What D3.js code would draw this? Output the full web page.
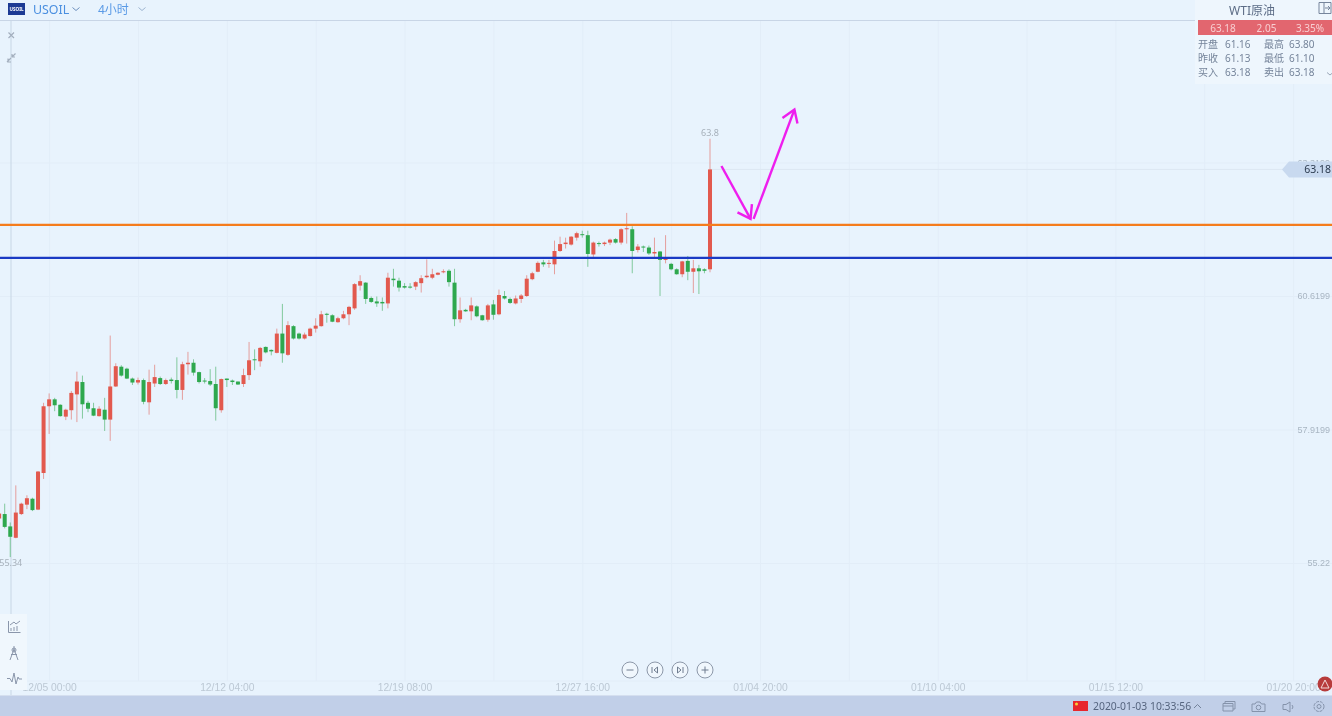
<!DOCTYPE html>
<html lang="zh">
  <head>
    <meta charset="UTF-8" />
    <title>USOIL 4小时</title>
    <style>
      html, body { margin: 0; padding: 0; background: #e8f3fd; overflow: hidden; }
      svg { display: block; filter: blur(0.35px); font-family: "Noto Sans", "Noto Sans CJK SC", sans-serif; }
    </style>
  </head>
  <body>
    <div class="chart"></div>
    <script src="https://d3js.org/d3.v7.min.js"></script>
    <script>
      // candle values, first one is cut off by the left edge
      const bodyTop = [56.22,
        56.21,55.96,56.24,56.42,56.53,56.52,57.07,58.39,58.53,58.53,58.42,58.32,58.66,58.89,58.88,58.46,58.35,58.34,58.32,58.79,
        59.20,59.19,59.15,58.95,58.92,58.92,58.88,58.98,58.96,58.92,58.93,58.92,59.24,59.27,59.27,59.08,58.91,58.90,58.84,58.94,
        58.95,58.91,58.89,59.02,59.32,59.34,59.57,59.59,59.53,59.86,59.86,60.03,60.01,59.86,59.84,59.96,60.02,60.25,60.26,60.23,
        60.17,60.25,60.40,60.86,60.92,60.89,60.58,60.51,60.50,60.99,60.97,60.93,60.82,60.81,60.90,60.98,61.03,61.06,61.09,61.12,
        61.13,60.89,60.33,60.34,60.43,60.41,60.23,60.43,60.45,60.64,60.62,60.56,60.57,60.63,60.97,61.08,61.29,61.30,61.29,61.53,
        61.67,61.70,61.82,61.89,61.87,61.85,61.70,61.69,61.70,61.76,61.77,61.97,61.99,61.97,61.62,61.62,61.60,61.51,61.52,61.37,
        61.27,61.16,61.32,61.33,61.18,61.18,61.16,63.18];
      const bodyBottom = [56.12,
        55.95,55.75,55.73,56.21,56.40,56.29,56.30,57.04,58.39,58.41,58.19,58.18,58.31,58.63,58.43,58.34,58.20,58.19,58.12,58.12,
        58.79,59.01,58.95,58.87,58.87,58.48,58.47,58.85,58.84,58.84,58.90,58.72,58.72,59.24,59.07,58.88,58.89,58.83,58.35,58.31,
        58.92,58.88,58.83,58.84,59.02,59.32,59.30,59.48,59.50,59.47,59.46,59.43,59.76,59.76,59.76,59.81,59.96,60.01,60.24,60.10,
        60.09,60.17,60.25,60.37,60.83,60.56,60.50,60.47,60.47,60.47,60.94,60.79,60.79,60.79,60.81,60.88,61.00,60.99,61.05,61.10,
        60.90,60.15,60.15,60.31,60.31,60.21,60.13,60.14,60.24,60.25,60.57,60.48,60.47,60.56,60.62,60.96,61.11,61.26,61.28,61.26,
        61.53,61.67,61.66,61.80,61.85,61.47,61.46,61.67,61.67,61.70,61.70,61.70,61.97,61.53,61.55,61.60,61.48,61.48,61.35,61.35,
        61.16,61.06,61.06,61.11,61.11,61.12,61.13,61.16];
      const highs = [56.25,
        56.42,56.04,56.79,56.44,56.59,56.54,57.08,58.46,58.65,58.56,58.43,58.34,58.70,59.09,59.01,58.50,58.46,58.39,58.56,59.82,
        59.26,59.22,59.17,58.97,58.97,58.95,59.13,59.23,58.99,58.95,58.97,59.38,59.29,59.49,59.34,59.09,58.96,59.14,59.19,58.95,
        58.95,58.93,58.89,59.15,59.69,59.54,59.59,59.60,59.54,59.96,60.46,60.11,60.03,59.88,59.88,59.98,60.17,60.32,60.28,60.25,
        60.20,60.32,60.42,60.88,61.04,60.90,60.61,60.61,60.59,61.09,61.17,60.99,60.88,60.88,60.92,61.04,61.36,61.17,61.10,61.16,
        61.16,61.17,60.59,60.36,60.59,60.43,60.24,60.46,60.54,60.75,60.72,60.59,60.63,60.66,61.04,61.11,61.32,61.35,61.35,61.74,
        61.82,61.80,61.83,61.92,61.94,61.94,61.72,61.72,61.72,61.78,61.79,61.99,62.30,62.03,61.67,61.64,61.64,61.80,61.53,61.85,
        61.29,61.18,61.33,61.43,61.35,61.25,61.18,63.80];
      const lows = [56.08,
        55.92,55.34,55.72,56.19,56.31,56.27,56.29,56.92,57.83,58.29,58.18,58.11,58.12,58.07,58.14,58.27,58.19,58.18,57.89,57.69,
        58.78,58.99,58.94,58.82,58.83,58.43,58.22,58.78,58.82,58.82,58.85,58.55,58.52,59.03,59.01,58.85,58.85,58.80,58.10,58.26,
        58.78,58.82,58.82,58.78,58.92,59.12,59.19,59.46,59.42,59.46,59.27,59.41,59.74,59.74,59.74,59.80,59.88,60.00,60.08,60.09,
        60.08,60.15,60.03,60.34,60.73,60.46,60.48,60.40,60.32,60.37,60.81,60.71,60.77,60.77,60.74,60.69,60.98,60.96,61.04,61.08,
        60.81,60.01,60.08,60.30,60.13,60.19,60.12,60.10,60.14,60.23,60.55,60.46,60.45,60.48,60.60,60.94,61.10,61.21,61.19,61.06,
        61.51,61.58,61.64,61.74,61.80,61.21,61.41,61.62,61.63,61.65,61.68,61.66,61.68,61.08,61.50,61.51,61.45,61.40,60.62,61.28,
        61.14,61.05,61.00,60.94,60.68,60.66,61.08,61.10];
      // r = closed up, g = closed down
      const direction = ("r" +
        "ggrrrgrrrg" + "grrrgggrgr" + "rgggrgrrgr" + "ggrrgggggr" + "gggrrgrggr" +
        "grggrrrrgg" + "rrrrrggggr" + "ggggrrrrrr" + "ggrgrggrgr" + "ggrrrrrgrr" +
        "rrrrggrgrr" + "grrgrggrgr" + "ggrgrggr").split("");

      const priceTicks = [63.3199, 60.6199, 57.9199, 55.22];
      const timeLabels = ["12/05 00:00", "12/12 04:00", "12/19 08:00", "12/27 16:00", "01/04 20:00", "01/10 04:00", "01/15 12:00", "01/20 20:00"];
      const timeLabelIndex = [8, 40, 72, 104, 136, 168, 200, 232];
      const gridIndex = [8, 24, 40, 56, 72, 88, 104, 120, 136, 152, 168, 184, 200, 216, 232, 248];

      const orangeLevel = 62.06;
      const blueLevel = 61.39;
      const lastPrice = 63.18;
      const highLabel = { index: 127, price: 63.8, text: "63.8" };
      const lowLabel = { index: 1, price: 55.34, text: "55.34" };

      // hand drawn arrows, [candle index, price]
      const arrowDown = [[129.06, 63.25], [134.3, 62.18]];
      const arrowDownHead = [[131.95, 62.31], [134.3, 62.18], [134.55, 62.48]];
      const arrowUp = [[134.85, 62.18], [142.2, 64.39]];
      const arrowUpHead = [[140.05, 64.22], [142.2, 64.39], [142.75, 64.11]];

      const panelRows = [
        ["开盘", "61.16", "最高", "63.80"],
        ["昨收", "61.13", "最低", "61.10"],
        ["买入", "63.18", "卖出", "63.18"],
      ];
      const quoteCells = ["63.18", "2.05", "3.35%"];

      const w = 1332;
      const h = 716;
      const upColor = "#e2594e";
      const downColor = "#2ea84e";
      const gridColor = "#e2edf8";

      const svg = d3.select(".chart").append("svg").attr("width", w).attr("height", h);
      svg.append("rect").attr("width", w).attr("height", h).attr("fill", "#e8f3fd");

      const xScale = d3.scaleLinear().domain([0, 127]).range([4.7, 710]);
      const yScale = d3.scaleLinear().domain([55.22, 60.6199]).range([563, 296]);

      // 格線
      const gridX = d3.axisBottom(xScale).tickValues(gridIndex).tickSize(-661).tickFormat("");
      svg.append("g").attr("transform", "translate(0,681)").call(gridX)
        .call((g) => g.select(".domain").remove())
        .call((g) => g.selectAll("line").attr("stroke", gridColor));

      const gridY = d3.axisRight(yScale).tickValues(priceTicks).tickSize(w).tickFormat("");
      svg.append("g").call(gridY)
        .call((g) => g.select(".domain").remove())
        .call((g) => g.selectAll("line").attr("stroke", gridColor));

      svg.append("line").attr("x1", 0).attr("x2", w).attr("y1", 681).attr("y2", 681).attr("stroke", gridColor);
      // crosshair
      svg.append("line").attr("x1", 11).attr("x2", 11).attr("y1", 20).attr("y2", 696).attr("stroke", "#c7d6e5");
      // last price guide
      svg.append("line").attr("x1", xScale(127)).attr("x2", 1284)
        .attr("y1", yScale(lastPrice)).attr("y2", yScale(lastPrice)).attr("stroke", "#dce7f2");

      // 價格軸
      const yAxis = d3.axisLeft(yScale).tickValues(priceTicks).tickSize(0).tickFormat((d) => d);
      svg.append("g").attr("transform", "translate(1333,0)").call(yAxis)
        .call((g) => g.select(".domain").remove())
        .call((g) => g.selectAll("text").attr("fill", "#a9b6c3").attr("font-size", 9).attr("font-family", "inherit"));

      // 時間軸
      const xAxis = d3.axisBottom(xScale).tickValues(timeLabelIndex).tickSize(0)
        .tickFormat((d, i) => timeLabels[i]);
      svg.append("g").attr("transform", "translate(0,681)").call(xAxis)
        .call((g) => g.select(".domain").remove())
        .call((g) => g.selectAll("text").attr("fill", "#bcc8d4").attr("font-size", 10.3).attr("font-family", "inherit"));

      // 蠟燭
      const candles = svg.append("g").selectAll("g").data(bodyTop).enter().append("g");
      candles.append("line")
        .attr("x1", (d, i) => xScale(i - 1))
        .attr("x2", (d, i) => xScale(i - 1))
        .attr("y1", (d, i) => yScale(highs[i]))
        .attr("y2", (d, i) => yScale(lows[i]))
        .attr("stroke", (d, i) => (direction[i] === "r" ? upColor : downColor))
        .attr("stroke-opacity", 0.55);
      candles.append("rect")
        .attr("x", (d, i) => xScale(i - 1) - 2)
        .attr("width", 4)
        .attr("y", (d, i) => yScale(d))
        .attr("height", (d, i) => Math.max(1, yScale(bodyBottom[i]) - yScale(d)))
        .attr("fill", (d, i) => (direction[i] === "r" ? upColor : downColor));

      // 水平線
      svg.append("line").attr("x1", 0).attr("x2", w)
        .attr("y1", yScale(orangeLevel)).attr("y2", yScale(orangeLevel))
        .attr("stroke", "#f57c1c").attr("stroke-width", 2.3);
      svg.append("line").attr("x1", 0).attr("x2", w)
        .attr("y1", yScale(blueLevel)).attr("y2", yScale(blueLevel))
        .attr("stroke", "#1a3ac4").attr("stroke-width", 2.3);

      // 箭頭
      const arrowLine = d3.line().x((d) => xScale(d[0])).y((d) => yScale(d[1]));
      [arrowDown, arrowDownHead, arrowUp, arrowUpHead].forEach((pts) => {
        svg.append("path").attr("d", arrowLine(pts))
          .attr("fill", "none").attr("stroke", "#ee1eee").attr("stroke-width", 2.4);
      });

      // high / low labels
      [highLabel, lowLabel].forEach((d) => {
        svg.append("text").attr("x", xScale(d.index) + (d === lowLabel ? 0.5 : 0))
          .attr("y", yScale(d.price) + (d === lowLabel ? 8.5 : -3))
          .attr("text-anchor", "middle").attr("font-size", 9).attr("fill", "#a6b0ba").text(d.text);
      });

      // 最新價標籤
      const tagY = yScale(lastPrice);
      svg.append("path")
        .attr("d", d3.line()([[1282, tagY], [1289, tagY - 8], [w, tagY - 8], [w, tagY + 8], [1289, tagY + 8]]) + "Z")
        .attr("fill", "#c8d9ef");
      svg.append("text").attr("x", 1331).attr("y", tagY + 4).attr("text-anchor", "end")
        .attr("font-size", 10.5).attr("fill", "#2b3a4e").text(lastPrice);

      // top bar
      svg.append("line").attr("x1", 0).attr("x2", 1196).attr("y1", 20.5).attr("y2", 20.5).attr("stroke", "#c8d5e6");
      svg.append("rect").attr("x", 8).attr("y", 3).attr("width", 17).attr("height", 12).attr("fill", "#1c3a94");
      svg.append("text").attr("x", 16.5).attr("y", 11).attr("text-anchor", "middle").attr("font-size", 4.6)
        .attr("font-weight", 700).attr("fill", "#fff").text("USOIL");
      svg.append("text").attr("x", 33).attr("y", 14).attr("font-size", 12.4).attr("fill", "#4a8fe0").text("USOIL");
      svg.append("text").attr("x", 98).attr("y", 13.5).attr("font-size", 12).attr("fill", "#5a9ae6").text("4小时");
      const chevron = d3.line();
      [[76, "#6d8fbd"], [142, "#9db4d0"]].forEach(([cx, col]) => {
        svg.append("path").attr("d", chevron([[cx - 3.5, 7.5], [cx, 10.5], [cx + 3.5, 7.5]]))
          .attr("fill", "none").attr("stroke", col);
      });

      // crosshair tools
      const tool = svg.append("g").attr("fill", "none").attr("stroke", "#a3afbe").attr("stroke-width", 1.2);
      tool.append("path").attr("d", "M8.5 32.5L14 38M14 32.5L8.5 38");
      tool.append("path").attr("d", "M7 62L11 58M8 58.5V62H11M15.5 53.5L12 57M12 54V57H15");

      // 右上角報價
      svg.append("rect").attr("x", 1195).attr("y", 0).attr("width", 137).attr("height", 84).attr("fill", "#eef6fd");
      svg.append("text").attr("x", 1252).attr("y", 15).attr("text-anchor", "middle").attr("font-size", 12)
        .attr("fill", "#5c6c86").text("WTI原油");
      svg.append("path").attr("d", "M1319 2.5H1331V13.5H1319ZM1324 2.5V13.5M1325 8H1330M1328 6L1330 8L1328 10")
        .attr("fill", "none").attr("stroke", "#76859c");
      svg.append("rect").attr("x", 1198).attr("y", 20).attr("width", 134).attr("height", 15).attr("fill", "#e2666f");
      const quoteX = d3.scalePoint().domain(quoteCells).range([1223, 1310]);
      svg.selectAll(".quote").data(quoteCells).enter().append("text")
        .attr("class", "quote").attr("x", (d) => quoteX(d)).attr("y", 32)
        .attr("text-anchor", "middle").attr("font-size", 10).attr("fill", "#f8cfd2").text((d) => d);
      const colX = [1198, 1225, 1264, 1289];
      panelRows.forEach((row, r) => {
        row.forEach((cell, c) => {
          svg.append("text").attr("x", colX[c]).attr("y", 47.5 + r * 14.2)
            .attr("font-size", 10).attr("fill", "#75849a").text(cell);
        });
      });
      svg.append("path").attr("d", chevron([[1327, 72.5], [1330, 75], [1333, 72.5]]))
        .attr("fill", "none").attr("stroke", "#9aa7b8");

      // 左下工具列
      svg.append("rect").attr("x", 0).attr("y", 614).attr("width", 27).attr("height", 76).attr("fill", "#f0f7fd");
      const leftTools = svg.append("g").attr("fill", "none").attr("stroke", "#8a96ab");
      leftTools.append("path").attr("d", "M8.5 621V632.5H20.5M11 628V631M14 627V631M17 626V631M10 625L14 622L16 624L20 621");
      leftTools.append("path").attr("d", "M14 646V649M14 649L10 660M14 649L18 660M11 654.5H17");
      leftTools.append("circle").attr("cx", 14).attr("cy", 650).attr("r", 2);
      leftTools.append("path").attr("d", "M7 678.5H10L12 682L14 673L16 684L18 677L19 679H22");

      // 下方按鈕
      const navButtons = [["M-3.5 0H3.5"], ["M2.5 -3L-1 0L2.5 3ZM-3 -3V3"], ["M-2.5 -3L1 0L-2.5 3ZM3 -3V3"], ["M-3.5 0H3.5M0 -3.5V3.5"]];
      const navX = d3.scaleLinear().domain([0, 3]).range([630, 705]);
      navButtons.forEach((d, i) => {
        const b = svg.append("g").attr("transform", `translate(${navX(i)},670)`);
        b.append("circle").attr("r", 8).attr("fill", "#f0f7fd").attr("stroke", "#8d99aa");
        b.append("path").attr("d", d[0]).attr("fill", "none").attr("stroke", "#6f7d90");
      });

      // 底部狀態列
      svg.append("rect").attr("x", 0).attr("y", 696).attr("width", w).attr("height", 20).attr("fill", "#c1cfe8");
      svg.append("line").attr("x1", 0).attr("x2", w).attr("y1", 695.5).attr("y2", 695.5).attr("stroke", "#d5dfef");
      svg.append("circle").attr("cx", 1325).attr("cy", 684).attr("r", 7.5).attr("fill", "#b73b3b");
      svg.append("path").attr("d", "M1321 688L1325 680L1329 688Z").attr("fill", "none").attr("stroke", "#f3d9d9");
      svg.append("rect").attr("x", 1073).attr("y", 701).attr("width", 15).attr("height", 10).attr("fill", "#e8262c");
      svg.append("circle").attr("cx", 1076.5).attr("cy", 704).attr("r", 1.5).attr("fill", "#f7d13a");
      svg.append("text").attr("x", 1093).attr("y", 710).attr("font-size", 10.4).attr("fill", "#56657f").text("2020-01-03 10:33:56");
      svg.append("path").attr("d", chevron([[1194, 708], [1197.5, 704.5], [1201, 708]])).attr("fill", "none").attr("stroke", "#74839b");
      const barIcons = svg.append("g").attr("fill", "none").attr("stroke", "#8593ab");
      barIcons.append("path").attr("d", "M1223 703.5H1233V711H1223ZM1223 706H1233M1225 703.5V701.5H1235V709H1233");
      barIcons.append("path").attr("d", "M1252 704H1255L1256.5 702H1260L1261.5 704H1265V711.5H1252Z");
      barIcons.append("circle").attr("cx", 1258.5).attr("cy", 707.5).attr("r", 2.3);
      barIcons.append("path").attr("d", "M1283 704.5H1286L1290 702V712L1286 709.5H1283ZM1292 705Q1294 707 1292 709");
      barIcons.append("circle").attr("cx", 1319).attr("cy", 706.5).attr("r", 2);
      barIcons.append("circle").attr("cx", 1319).attr("cy", 706.5).attr("r", 5).attr("stroke-dasharray", "3 1");
    </script>
  </body>
</html>
